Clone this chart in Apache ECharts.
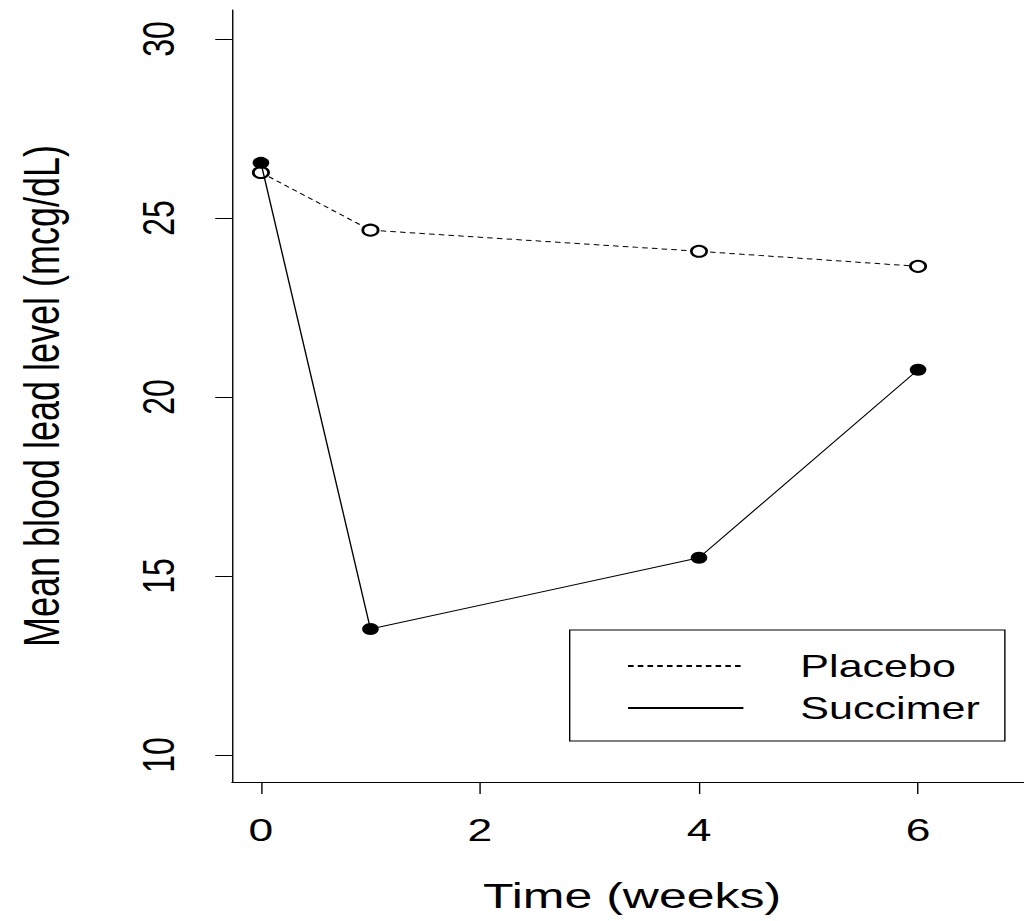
<!DOCTYPE html>
<html><head><meta charset="utf-8">
<script src="https://cdn.jsdelivr.net/npm/echarts@6/dist/echarts.min.js"></script>
<style>
html,body{margin:0;padding:0;background:#fff;overflow:hidden;}
#wrap{width:1024px;height:921px;overflow:hidden;}
#chart{width:737px;height:921px;transform:scaleX(1.3895);transform-origin:0 0;}
</style></head>
<body><div id="wrap"><div id="chart"></div></div>
<script>
const weeks = [0, 1, 4, 6];
const placebo = [26.27, 24.66, 24.07, 23.65];
const succimer = [26.54, 13.52, 15.51, 20.76];
const xTicks = [0, 2, 4, 6];
const yTicks = [10, 15, 20, 25, 30];
const seriesNames = ['Placebo', 'Succimer'];

const FONT = 'Liberation Sans';
const chart = echarts.init(document.getElementById('chart'), null, {renderer: 'svg'});
chart.setOption({
  animation: false,
  backgroundColor: '#fff',
  grid: {left: 166.9, top: 10, right: 0, bottom: 139, containLabel: false},
  legend: {
    data: seriesNames,
    orient: 'vertical',
    left: 410, top: 630,
    width: 313,
    padding: [18, 18, 15, 41],
    itemGap: 6,
    itemWidth: 83, itemHeight: 14,
    borderColor: '#000', borderWidth: 1, borderRadius: 0,
    itemStyle: {opacity: 0},
    textStyle: {fontFamily: FONT, fontSize: 31, color: '#000', padding: [0, 0, 0, 36], lineHeight: 36}
  },
  xAxis: {
    type: 'value', min: -0.265, max: 6.968,
    splitLine: {show: false},
    axisLine: {show: true, onZero: false, lineStyle: {color: '#000', width: 1}},
    axisTick: {show: true, length: 12, customValues: xTicks, lineStyle: {color: '#000'}},
    axisLabel: {customValues: xTicks, fontFamily: FONT, fontSize: 32, color: '#000', margin: 32},
    name: 'Time (weeks)', nameLocation: 'middle', nameGap: 96,
    nameTextStyle: {fontFamily: FONT, fontSize: 36, color: '#000', padding: [0, 0, 0, 6]}
  },
  yAxis: {
    type: 'value', min: 9.246, max: 30.81,
    splitLine: {show: false},
    axisLine: {show: true, onZero: false, lineStyle: {color: '#000', width: 1}},
    axisTick: {show: true, length: 12, customValues: yTicks, lineStyle: {color: '#000'}},
    axisLabel: {customValues: yTicks, rotate: 90, fontFamily: FONT, fontSize: 32, color: '#000', margin: 37},
    name: 'Mean blood lead level (mcg/dL)', nameLocation: 'middle', nameGap: 119, nameRotate: 90,
    nameTextStyle: {fontFamily: FONT, fontSize: 36, color: '#000'}
  },
  series: [
    {
      name: seriesNames[0], type: 'line', z: 2,
      data: weeks.map((w, i) => [w, placebo[i]]),
      symbol: 'emptyCircle', symbolSize: 11,
      itemStyle: {color: '#000', borderColor: '#000', borderWidth: 1},
      lineStyle: {color: '#000', width: 1, type: [4, 3]}
    },
    {
      name: seriesNames[1], type: 'line', z: 3,
      data: weeks.map((w, i) => [w, succimer[i]]),
      symbol: 'circle', symbolSize: 12,
      itemStyle: {color: '#000'},
      lineStyle: {color: '#000', width: 1, type: 'solid'}
    }
  ]
});
</script></body></html>
